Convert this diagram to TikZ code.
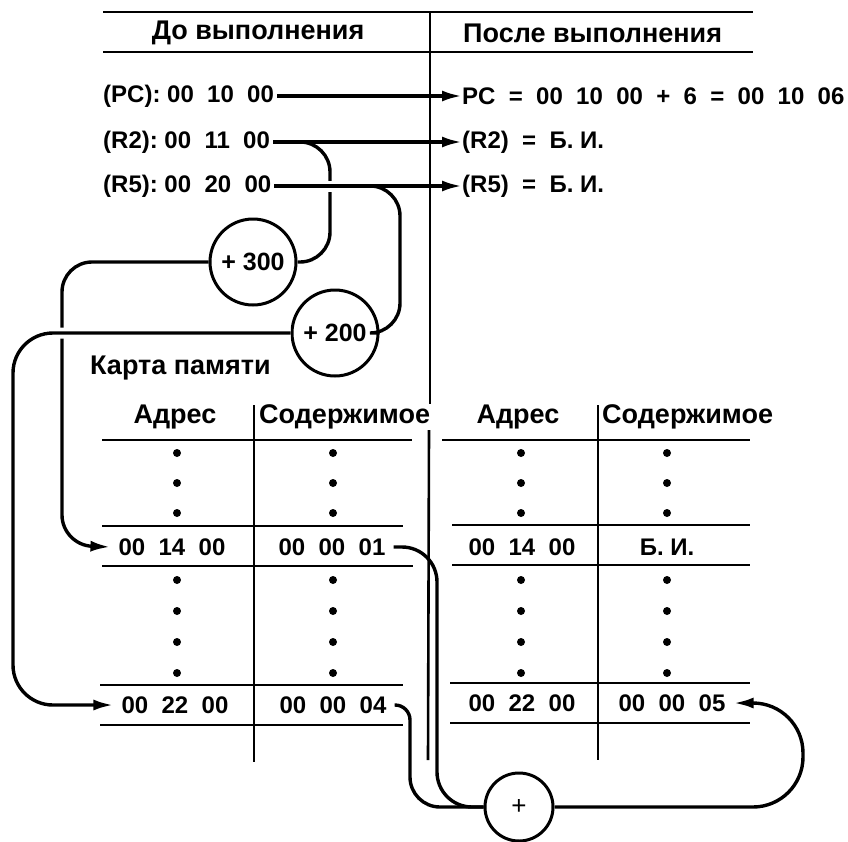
\documentclass[tikz,border=0pt]{standalone}
\usepackage{fontspec}
\setmainfont{Liberation Sans}
\usetikzlibrary{arrows.meta}
\begin{document}
\begin{tikzpicture}[x=1pt,y=-1pt,
  txt/.style={inner sep=0pt, font=\fontsize{24}{28}\selectfont\bfseries},
  reg/.style={txt, inner xsep=3pt},
  head/.style={inner sep=0pt, font=\fontsize{27}{30}\selectfont\bfseries},
  cell/.style={txt, inner xsep=8pt},
  conn/.style={line width=3.4pt},
  arr/.style={conn, -{Latex[length=20pt,width=11pt]}},
  rule/.style={line width=2.6pt},
  sum/.style={circle, draw, line width=3pt, minimum size=86pt, inner sep=0pt,
              font=\fontsize{25}{28}\selectfont\bfseries},
  halo/.style={preaction={draw=white, line width=11pt, -}},
]
\useasboundingbox (0,0) rectangle (848,841);

% header of the two states
\draw[rule] (103,12) -- (753,12);
\draw[rule] (103,52) -- (753,52);
\node[head] (before) at (258,33) {До выполнения};
\node[head, anchor=west] (after) at (463,33) {После выполнения};

% registers before and after
\node[reg, anchor=west] (pcL) at (100,96) {(PC):~00~~10~~00};
\node[reg, anchor=west] (r2L) at (100,142) {(R2):~00~~11~~00};
\node[reg, anchor=west] (r5L) at (100,186) {(R5):~00~~20~~00};
\node[txt, anchor=west] (pcR) at (462,96) {PC~~=~~00~~10~~00~~+~~6~~=~~00~~10~~06};
\node[txt, anchor=west] (r2R) at (462,142) {(R2)~~=~~Б.~И.};
\node[txt, anchor=west] (r5R) at (462,186) {(R5)~~=~~Б.~И.};

% adders for the offsets
\node[sum] (c300) at (253,262) {+~300};
\node[sum] (c200) at (335,333) {+~200};
\node[sum, minimum size=68pt, font=\fontsize{26}{28}\selectfont] (cplus) at (519,807) {+};

\node[head, anchor=west] (map) at (90,368) {Карта памяти};

% memory map headings
\node[head] (adrL) at (175,417) {Адрес};
\node[head, anchor=west] (sodL) at (259,417) {Содержимое};
\node[head] (adrR) at (518,417) {Адрес};
\node[head, anchor=west] (sodR) at (602,417) {Содержимое};

% memory cells
\node[cell] (a1400) at (172,547) {00~~14~~00};
\node[cell] (v01) at (332,547) {00~~00~~01};
\node[cell] (a2200) at (175,705) {00~~22~~00};
\node[cell] (v04) at (333,705) {00~~00~~04};
\node[cell] (b1400) at (522,547) {00~~14~~00};
\node[cell] (w01) at (667,547) {Б.~И.};
\node[cell] (b2200) at (522,703) {00~~22~~00};
\node[cell] (w05) at (672,703) {00~~00~~05};

% table rules
\foreach \y/\a/\b in {440/102/412, 526/102/403, 566/102/413, 685/100/403, 725/100/403}
  \draw[rule] (\a,\y) -- (\b,\y);
\foreach \y/\a/\b in {440/442/750, 525/452/750, 565/452/750, 683/450/750, 723/450/750}
  \draw[rule] (\a,\y) -- (\b,\y);
\draw[rule] (254,405) -- (254,762);
\draw[rule] (598,405) -- (598,760);

% elided rows
\foreach \y in {453,483,513,580,611,642,673} {
  \fill (177,\y) circle[radius=4pt];
  \fill (333,\y) circle[radius=4pt];
  \fill (521,\y) circle[radius=4pt];
  \fill (667,\y) circle[radius=4pt];
}

% register transfers
\draw[arr] (pcL.east) -- (pcR.west);
\draw[arr] (r2L.east) -- (r2R.west);
\draw[conn, rounded corners=30] (r2L.east) -| (330,262) -- (c300.east);
\draw[arr, halo] (r5L.east) -- (r5R.west);
\draw[conn, rounded corners=30] (r5L.east) -| (400,333) -- (c200.east);

% effective addresses
\draw[arr, rounded corners=30] (c300.west) -| (62,545) -- (a1400.west);
\draw[arr, halo, rounded corners=40] (c200.west) -| (13,705) -- (a2200.west);

% sum of the two operands
\draw[conn, rounded corners=35] (v01.east) -| (437,807) -- (cplus.west);
\draw[conn, rounded corners=15] (v04.east) -| (410,760) [rounded corners=30] |- (cplus.west);
\draw[arr, rounded corners=50] (cplus.east) -| (803,703) -- (w05.east);

% column divider between the two states
\draw[rule] (430,12) -- (430,404);
\draw[rule] (429,430) -- (428,760);
\end{tikzpicture}
\end{document}
